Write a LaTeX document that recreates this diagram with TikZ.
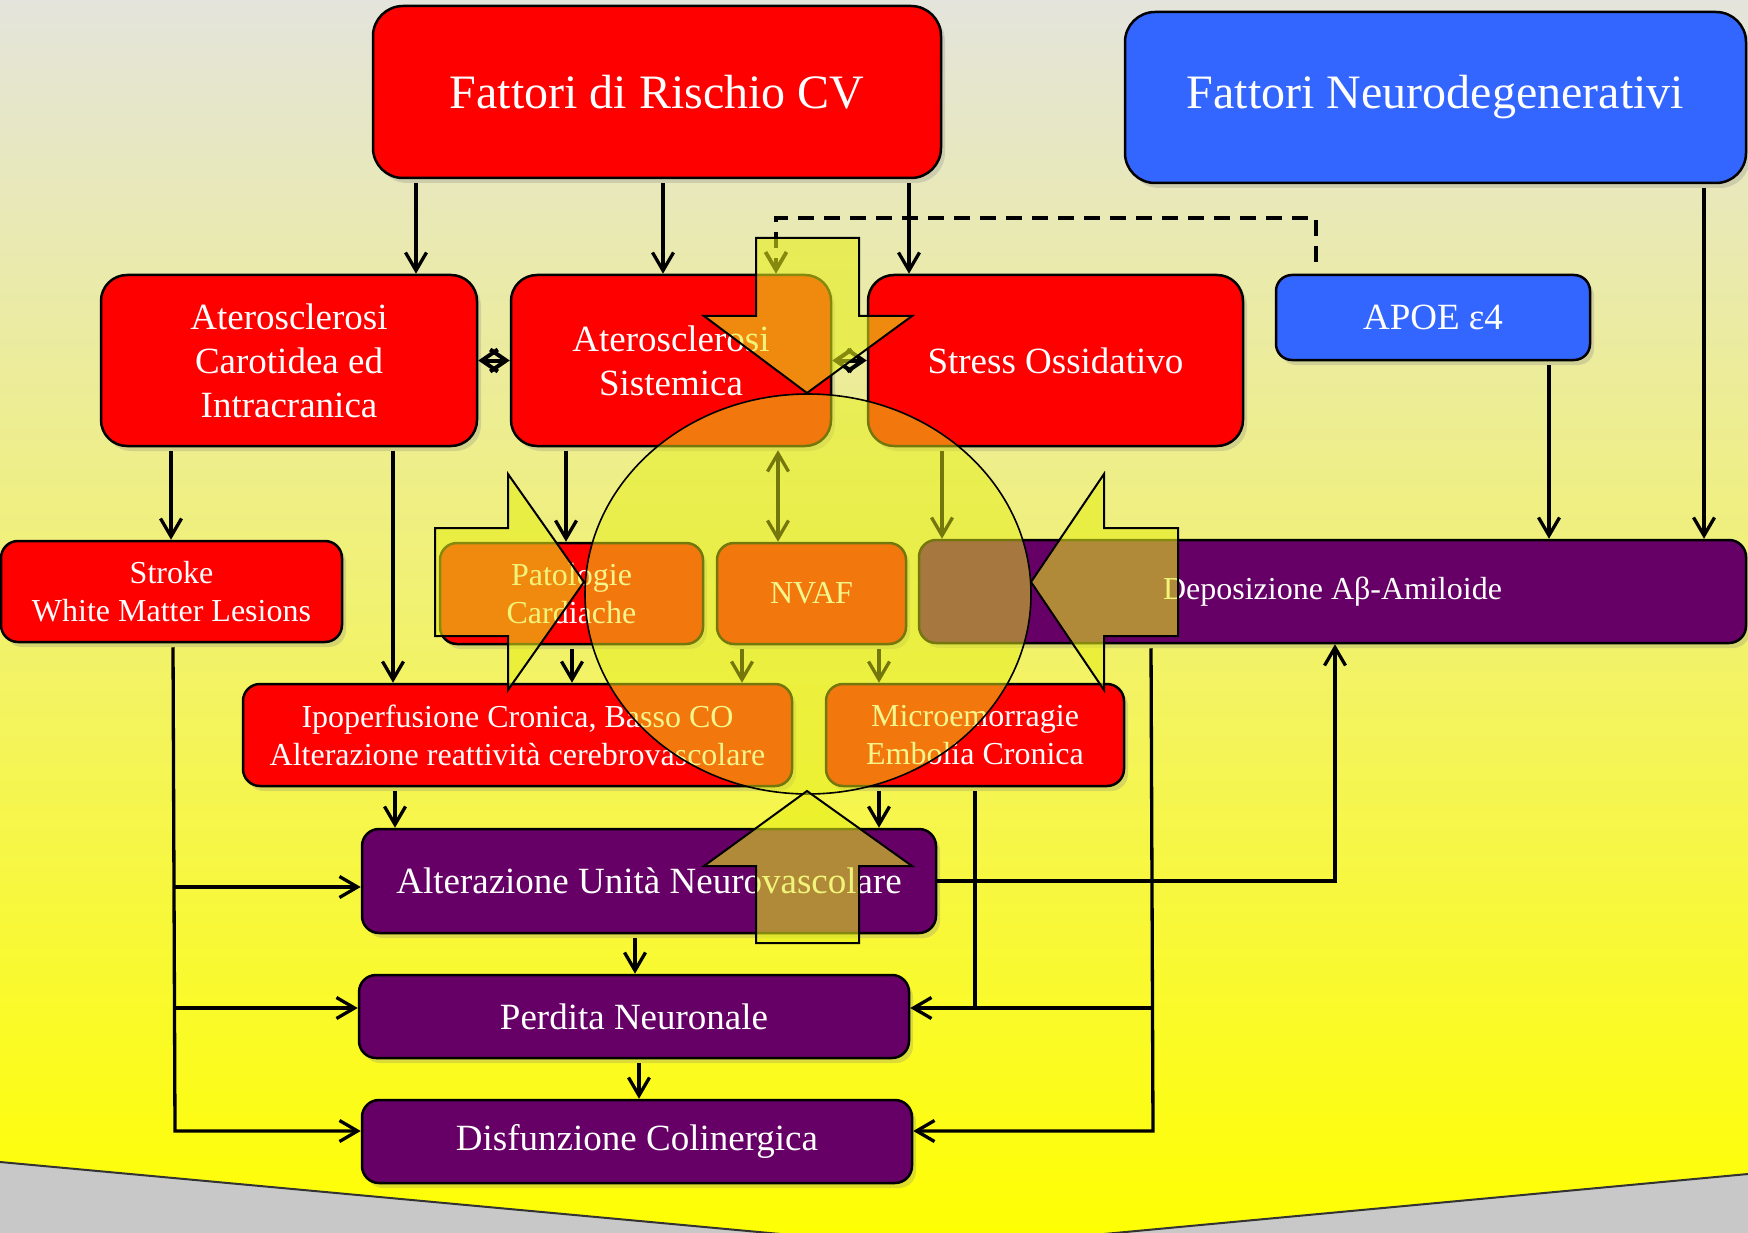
\documentclass[tikz,border=0pt]{standalone}
\usepackage{fontspec}
\setmainfont{Liberation Serif}
\usetikzlibrary{arrows.meta,shadows}
\definecolor{boxred}{RGB}{255,0,0}
\definecolor{boxblue}{RGB}{51,102,255}
\definecolor{boxpurple}{RGB}{102,0,102}
\definecolor{hl}{RGB}{230,238,25}
\definecolor{bgtop}{RGB}{228,228,220}
\definecolor{bgmid}{RGB}{238,238,150}
\definecolor{bgbot}{RGB}{255,255,0}
\definecolor{floorgray}{RGB}{200,200,200}
\tikzset{
  base/.style={draw=black, line width=2.5pt, text=white, align=center, inner sep=0pt,
    drop shadow={shadow xshift=4pt, shadow yshift=-5pt, opacity=0.25}},
  redbox/.style={base, fill=boxred},
  bluebox/.style={base, fill=boxblue},
  purplebox/.style={base, fill=boxpurple},
  fbig/.style={font=\fontsize{48}{56}\selectfont},
  fmid/.style={font=\fontsize{37}{44}\selectfont},
  fsmall/.style={font=\fontsize{32}{38}\selectfont},
  conn/.style={line width=3.3pt, black},
  arr/.style={conn, -{Straight Barb[length=18pt,width=21pt]}},
  arrboth/.style={conn, {Straight Barb[length=18pt,width=21pt]}-{Straight Barb[length=18pt,width=21pt]}},
  dbl/.style={conn, line width=4pt, {Straight Barb[length=16pt,width=22pt]}-{Straight Barb[length=16pt,width=22pt]}},
  gap/.style={shorten <=4pt},
  hlarrow/.style={fill=hl, fill opacity=0.58, draw=black, line width=2pt},
  hlcircle/.style={fill=hl, fill opacity=0.5, draw=black, line width=1.6pt},
}
\begin{document}
\begin{tikzpicture}[x=1pt,y=-1pt]
\useasboundingbox (0,0) rectangle (1748,1233);
% background
\fill[floorgray] (0,0) rectangle (1748,1233);
\shade[top color=bgtop, middle color=bgmid, bottom color=bgbot]
  (0,0) -- (1748,0) -- (1748,1174) -- (943,1249) -- (0,1162) -- cycle;
\draw[line width=2pt, black!80] (0,1162) -- (943,1249) -- (1748,1174);

% nodes
\node[redbox, fbig, rounded corners=30pt, minimum width=568pt, minimum height=172pt] (cv) at (657,92) {Fattori di Rischio CV};
\node[bluebox, fbig, rounded corners=30pt, minimum width=621pt, minimum height=171pt] (nd) at (1435.5,97.5) {Fattori Neurodegenerativi};
\node[redbox, fmid, rounded corners=26pt, minimum width=376pt, minimum height=171pt] (car) at (289,360.5) {Aterosclerosi\\Carotidea ed\\Intracranica};
\node[redbox, fmid, rounded corners=26pt, minimum width=320pt, minimum height=171pt] (sis) at (671,360.5) {Aterosclerosi\\Sistemica};
\node[redbox, fmid, rounded corners=26pt, minimum width=375pt, minimum height=171pt] (so) at (1055.5,360.5) {Stress Ossidativo};
\node[bluebox, fmid, rounded corners=16pt, minimum width=314pt, minimum height=85pt] (apoe) at (1433,317.5) {APOE ε4};
\node[redbox, fsmall, rounded corners=17pt, minimum width=341pt, minimum height=101pt] (stroke) at (171.5,591.5) {Stroke\\White Matter Lesions};
\node[redbox, fsmall, rounded corners=17pt, minimum width=263pt, minimum height=101pt] (pat) at (571.5,593.5) {Patologie\\Cardiache};
\node[redbox, fsmall, rounded corners=17pt, minimum width=189pt, minimum height=101pt] (nvaf) at (811.5,593.5) {NVAF};
\node[purplebox, fsmall, rounded corners=17pt, minimum width=827pt, minimum height=103pt] (dep) at (1332.5,591.5) {Deposizione Aβ-Amiloide};
\node[redbox, fsmall, rounded corners=17pt, minimum width=549pt, minimum height=102pt] (ipo) at (517.5,735) {Ipoperfusione Cronica, Basso CO\\Alterazione reattività cerebrovascolare};
\node[redbox, fsmall, rounded corners=17pt, minimum width=298pt, minimum height=102pt] (micro) at (975,735) {Microemorragie\\Embolia Cronica};
\node[purplebox, fmid, rounded corners=17pt, minimum width=574pt, minimum height=104pt] (alt) at (649,881) {Alterazione Unità Neurovascolare};
\node[purplebox, fmid, rounded corners=17pt, minimum width=550pt, minimum height=83pt] (perd) at (634,1016.5) {Perdita Neuronale};
\node[purplebox, fmid, rounded corners=17pt, minimum width=550pt, minimum height=83pt] (dis) at (637,1141.5) {Disfunzione Colinergica};

% connectors
\draw[arr,gap] (cv.south -| 416,0) -- (car.north -| 416,0);
\draw[arr,gap] (cv.south -| 663,0) -- (sis.north -| 663,0);
\draw[arr,gap] (cv.south -| 909,0) -- (so.north -| 909,0);
\draw[arr,gap] (nd.south -| 1704,0) -- (dep.north -| 1704,0);
\draw[arr,gap] (apoe.south -| 1549,0) -- (dep.north -| 1549,0);
\draw[arr,line width=3.8pt,dash pattern=on 16pt off 10pt, shorten <=12pt] (apoe.north -| 1316,0) -- (1316,218) -- (776,218) -- (sis.north -| 776,0);
\draw[dbl] (car.east) -- (sis.west);
\draw[dbl] (sis.east) -- (so.west);
\draw[arr,gap] (car.south -| 171,0) -- (stroke.north -| 171,0);
\draw[arr,gap] (car.south -| 393,0) -- (ipo.north -| 393,0);
\draw[arr,gap] (sis.south -| 566,0) -- (pat.north -| 566,0);
\draw[arrboth, shorten <=3pt] (sis.south -| 778,0) -- (nvaf.north -| 778,0);
\draw[arr,gap] (so.south -| 942,0) -- (dep.north -| 942,0);
\draw[arr,gap] (pat.south -| 572,0) -- (ipo.north -| 572,0);
\draw[arr,gap] (nvaf.south -| 742,0) -- (ipo.north -| 742,0);
\draw[arr,gap] (nvaf.south -| 879,0) -- (micro.north -| 879,0);
\draw[arr,gap] (ipo.south -| 395,0) -- (alt.north -| 395,0);
\draw[arr,gap] (micro.south -| 879,0) -- (alt.north -| 879,0);
\draw[arr,gap] (alt.south -| 635,0) -- (perd.north -| 635,0);
\draw[arr,gap] (perd.south -| 639,0) -- (dis.north -| 639,0);
% left bus from Stroke
\draw[arr,gap] (stroke.south -| 173,0) -- (175,1131) -- (dis.west |- 0,1131);
\draw[arr] (174,887) -- (alt.west |- 0,887);
\draw[arr] (174.5,1008) -- (perd.west |- 0,1008);
% right buses
\draw[arr,gap] (micro.south -| 975,0) -- (975,1008) -- (perd.east |- 0,1008);
\draw[arr,gap] (dep.south -| 1151,0) -- (1153,1131) -- (dis.east |- 0,1131);
\draw[conn] (1152.5,1008) -- (975,1008);
\draw[arr] (alt.east |- 0,881) -- (1335,881) -- (dep.south -| 1335,0);

% highlight overlay
\draw[hlcircle] (808,594) ellipse [x radius=223, y radius=200];
\draw[hlarrow] (756,238) -- (859,238) -- (859,316) -- (912,316) -- (807,393) -- (704,316) -- (756,316) -- cycle;
\draw[hlarrow] (756,943) -- (859,943) -- (859,866) -- (912,866) -- (807,791) -- (704,866) -- (756,866) -- cycle;
\draw[hlarrow] (435,528) -- (508,528) -- (508,474) -- (584,582) -- (508,690) -- (508,636) -- (435,636) -- cycle;
\draw[hlarrow] (1178,528) -- (1104,528) -- (1104,474) -- (1031,582) -- (1104,690) -- (1104,636) -- (1178,636) -- cycle;
\end{tikzpicture}
\end{document}
